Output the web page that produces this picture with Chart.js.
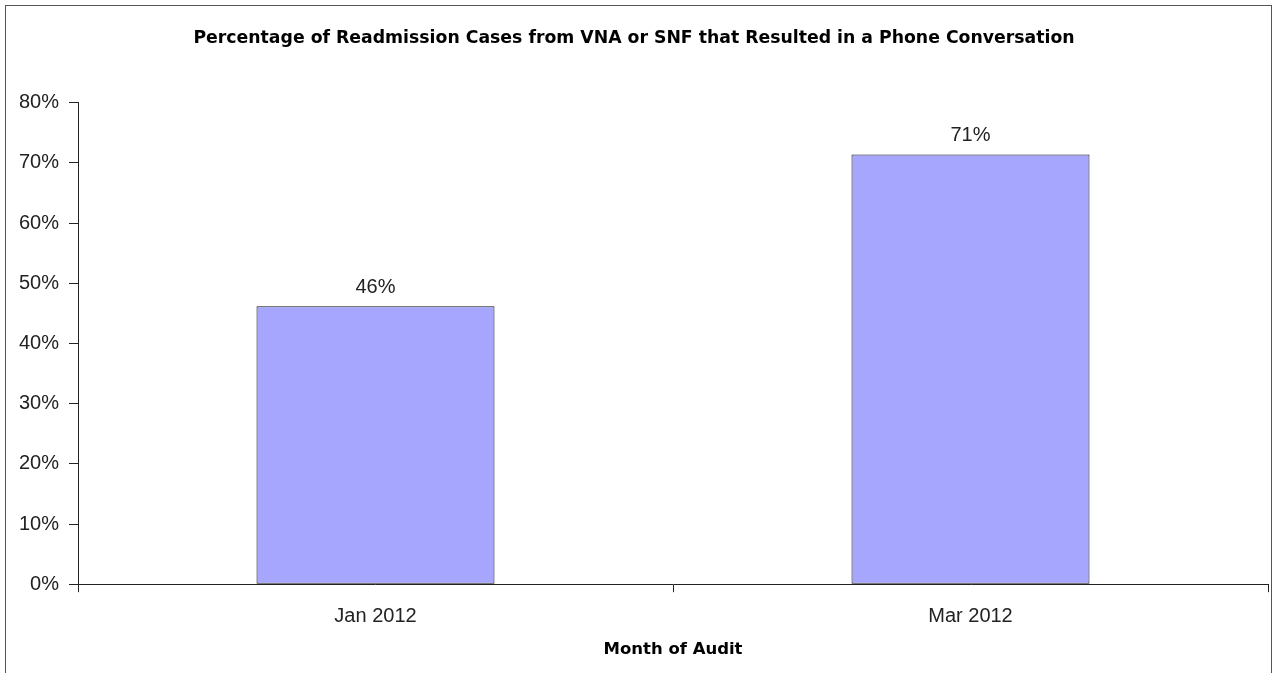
<!DOCTYPE html>
<html>
<head>
<meta charset="utf-8">
<script src="https://cdn.jsdelivr.net/npm/chart.js@4"></script>
<style>
  html, body { margin: 0; padding: 0; background: #fff; }
  #wrap { width: 1275px; height: 673px; position: relative; }
</style>
</head>
<body>
<div id="wrap"><canvas id="auditChart"></canvas></div>
<script>
// data
const months = ['Jan 2012', 'Mar 2012'];
const phonePct = [46.2, 71.4];
const yTicks = [0, 10, 20, 30, 40, 50, 60, 70, 80];

Chart.defaults.font.family = '"Liberation Sans", Arial, sans-serif';
Chart.defaults.color = '#222';

const boldFont = '"DejaVu Sans", Verdana, sans-serif';

// outer frame like the exported picture
const framePlugin = {
    id: 'frame',
    beforeDraw(chart) {
        const ctx = chart.ctx;
        ctx.save();
        ctx.fillStyle = '#fff';
        ctx.fillRect(0, 0, chart.width, chart.height);
        ctx.strokeStyle = '#555';
        ctx.lineWidth = 1;
        ctx.strokeRect(5.5, 5.5, chart.width - 9, chart.height + 20);
        ctx.restore();
    }
};

// value labels above bars
const valueLabels = {
    id: 'valueLabels',
    afterDatasetsDraw(chart) {
        const ctx = chart.ctx;
        const meta = chart.getDatasetMeta(0);
        ctx.save();
        ctx.font = '20px "Liberation Sans", Arial, sans-serif';
        ctx.fillStyle = '#222';
        ctx.textAlign = 'center';
        ctx.textBaseline = 'middle';
        meta.data.forEach((bar, i) => {
            ctx.fillText(Math.round(phonePct[i]) + '%', bar.x, bar.y - 19);
        });
        ctx.restore();
    }
};

const ctx = document.getElementById('auditChart').getContext('2d');
const auditChart = new Chart(ctx, {
    type: 'bar',
    data: {
        labels: months,
        datasets: [{
            label: 'Phone conversation',
            data: phonePct,
            backgroundColor: '#A6A6FF',
            borderColor: '#111',
            borderWidth: 1,
            borderSkipped: false,
            barPercentage: 0.8,
            categoryPercentage: 0.5
        }]
    },
    options: {
        responsive: true,
        maintainAspectRatio: false,
        animation: false,
        layout: { padding: { top: 0, right: 7, bottom: 13, left: 0 } },
        plugins: {
            legend: { display: false },
            tooltip: { enabled: false },
            title: {
                display: true,
                text: 'Percentage of Readmission Cases from VNA or SNF that Resulted in a Phone Conversation',
                font: { family: boldFont, size: 17.3, weight: 'bold' },
                color: '#000',
                padding: { top: 28, bottom: 54 }
            }
        },
        scales: {
            x: {
                offset: true,
                grid: {
                    offset: true,
                    drawOnChartArea: false,
                    color: '#222',
                    tickLength: 8
                },
                border: { color: '#222', width: 1 },
                ticks: { font: { size: 20 }, color: '#222', padding: 12 },
                title: {
                    display: true,
                    text: 'Month of Audit',
                    font: { family: boldFont, size: 16.5, weight: 'bold' },
                    color: '#000',
                    padding: { top: 0, bottom: 0 }
                }
            },
            y: {
                min: 0,
                max: 80,
                afterBuildTicks(axis) {
                    axis.ticks = yTicks.map(v => ({ value: v }));
                },
                afterFit(axis) { axis.width = 78; },
                grid: {
                    drawOnChartArea: false,
                    color: '#222',
                    tickLength: 9
                },
                border: { color: '#222', width: 1 },
                ticks: {
                    font: { size: 20 },
                    color: '#222',
                    padding: 10,
                    callback: v => v + '%'
                }
            }
        }
    },
    plugins: [framePlugin, valueLabels]
});
</script>
</body>
</html>
